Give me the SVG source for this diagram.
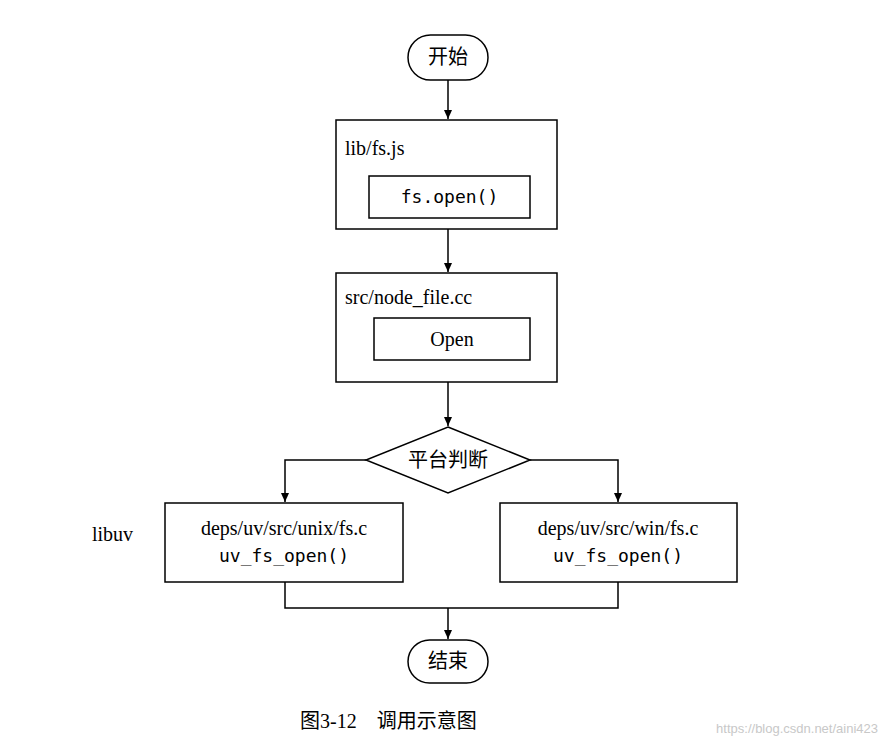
<svg xmlns="http://www.w3.org/2000/svg" width="885" height="749" viewBox="0 0 885 749">
<defs>
<marker id="ah" markerWidth="10" markerHeight="10" refX="9" refY="5" orient="auto" markerUnits="userSpaceOnUse"><path d="M0,1 L9,5 L0,9 z" fill="#000"/></marker>
<style>
.b{fill:#fff;stroke:#000;stroke-width:1.5}
.t{font-family:"Liberation Serif","Noto Sans CJK SC",serif;font-size:20px;fill:#000}
.m{font-family:"DejaVu Sans Mono","Liberation Mono",monospace;font-size:18px;fill:#000}
.l{fill:none;stroke:#000;stroke-width:1.5}
</style>
</defs>
<rect width="885" height="749" fill="#fff"/>
<g id="connectors">
<line class="l" x1="448" y1="80" x2="448" y2="119" marker-end="url(#ah)"/>
<line class="l" x1="448" y1="229" x2="448" y2="272" marker-end="url(#ah)"/>
<line class="l" x1="448" y1="382" x2="448" y2="426" marker-end="url(#ah)"/>
<polyline class="l" points="366,460 285,460 285,502" marker-end="url(#ah)"/>
<polyline class="l" points="530,460 618,460 618,502" marker-end="url(#ah)"/>
<polyline class="l" points="285,582 285,608 618,608 618,582"/>
<line class="l" x1="448" y1="608" x2="448" y2="639" marker-end="url(#ah)"/>
</g>
<g id="start"><rect class="b" x="408" y="35" width="80" height="45" rx="22.5"/><text class="t" x="448" y="64" text-anchor="middle">开始</text></g>
<g id="fsjs"><rect class="b" x="336" y="120" width="221" height="109"/><text class="t" x="345" y="155">lib/fs.js</text>
<rect class="b" x="369" y="176" width="161" height="42"/><text class="m" x="449.5" y="203" text-anchor="middle">fs.open()</text></g>
<g id="nodefile"><rect class="b" x="336" y="273" width="221" height="109"/><text class="t" x="345" y="304">src/node_file.cc</text>
<rect class="b" x="374" y="318" width="156" height="42"/><text class="t" x="452" y="346" text-anchor="middle">Open</text></g>
<g id="decision"><polygon class="b" points="448,427 530,460 448,493 366,460"/><text class="t" x="448" y="467" text-anchor="middle">平台判断</text></g>
<g id="unix"><rect class="b" x="165" y="503" width="238" height="79"/><text class="t" x="284" y="535" text-anchor="middle">deps/uv/src/unix/fs.c</text><text class="m" x="284" y="562" text-anchor="middle">uv_fs_open()</text></g>
<g id="win"><rect class="b" x="500" y="503" width="237" height="79"/><text class="t" x="618" y="535" text-anchor="middle">deps/uv/src/win/fs.c</text><text class="m" x="618" y="562" text-anchor="middle">uv_fs_open()</text></g>
<g id="libuv"><text class="t" x="92" y="541">libuv</text></g>
<g id="end"><rect class="b" x="408" y="640" width="80" height="43" rx="21.5"/><text class="t" x="448" y="668" text-anchor="middle">结束</text></g>
<text class="t" x="300" y="728" font-size="22">图3-12　调用示意图</text>
<text x="878" y="733" text-anchor="end" font-family="Liberation Sans,sans-serif" font-size="13" fill="#c8c8c8">https://blog.csdn.net/aini423</text>
</svg>
